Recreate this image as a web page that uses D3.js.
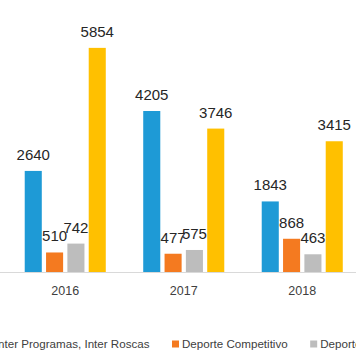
<!DOCTYPE html>
<html><head><meta charset="utf-8">
<script src="https://cdn.jsdelivr.net/npm/d3@7"></script>
<style>body{margin:0;background:#fff;}svg{display:block;font-family:"Liberation Sans",Arial,sans-serif;}</style>
</head><body>
<script>
const categories = ["2016", "2017", "2018"];
const seriesNames = ["Inter Programas, Inter Roscas", "Deporte Competitivo", "Deporte Formativo", "Actividad Física"];
const interProgramas = [2640, 4205, 1843];
const deporteCompetitivo = [510, 477, 868];
const deporteFormativo = [742, 575, 463];
const actividadFisica = [5854, 3746, 3415];
const colors = ["#1E9AD6", "#F47A20", "#BDBDBD", "#FFC000"];

const seriesValues = [interProgramas, deporteCompetitivo, deporteFormativo, actividadFisica];
const W = 356, H = 364;
const svg = d3.select("body").append("svg").attr("width", W).attr("height", H);

const x0 = d3.scaleBand().domain(categories).range([6, 361.5]).paddingInner(0.316).paddingOuter(0.158);
const x1 = d3.scaleBand().domain(d3.range(seriesNames.length)).range([0, x0.bandwidth()]).paddingInner(0.2).paddingOuter(0);
const y = d3.scaleLinear().domain([0, 7000]).range([272, 4]);

const rows = [];
categories.forEach((c, ci) => seriesValues.forEach((vals, si) => rows.push({c, si, v: vals[ci]})));

svg.append("g").selectAll("rect").data(rows).join("rect")
  .attr("x", d => x0(d.c) + x1(d.si))
  .attr("y", d => y(d.v))
  .attr("width", x1.bandwidth())
  .attr("height", d => y(0) - y(d.v))
  .attr("fill", d => colors[d.si]);

svg.append("g").selectAll("text").data(rows).join("text")
  .attr("x", d => x0(d.c) + x1(d.si) + x1.bandwidth() / 2)
  .attr("y", d => y(d.v) - 11)
  .attr("text-anchor", "middle")
  .attr("font-size", 15)
  .attr("fill", "#262626")
  .text(d => d.v);

// axis
const xAxis = svg.append("g").attr("transform", "translate(0,272.5)")
  .call(d3.axisBottom(x0).tickSize(0).tickPadding(14));
xAxis.select(".domain").attr("d", "M0,0H" + W).attr("stroke", "#D9D9D9");
xAxis.selectAll("text").attr("font-size", 12.5).attr("fill", "#404040")
  .attr("font-family", '"Liberation Sans",Arial,sans-serif');

// legend
const lg = svg.append("g").attr("transform", "translate(0,344)");
const items = lg.selectAll("g").data(seriesNames).join("g");
items.append("rect").attr("width", 7).attr("height", 7).attr("y", -3.5).attr("fill", (d, i) => colors[i]);
items.append("text").attr("x", 10).attr("dy", "0.35em").attr("font-size", 11.6).attr("fill", "#404040").text(d => d);
const widths = [];
items.each(function () { widths.push(this.querySelector("text").getComputedTextLength() + 10); });
const pos = [0];
for (let i = 1; i < widths.length; i++) pos.push(pos[i - 1] + widths[i - 1] + 22.5);
const shift = 172 - pos[1];
items.attr("transform", (d, i) => `translate(${pos[i] + shift},0)`);
</script>
</body></html>
